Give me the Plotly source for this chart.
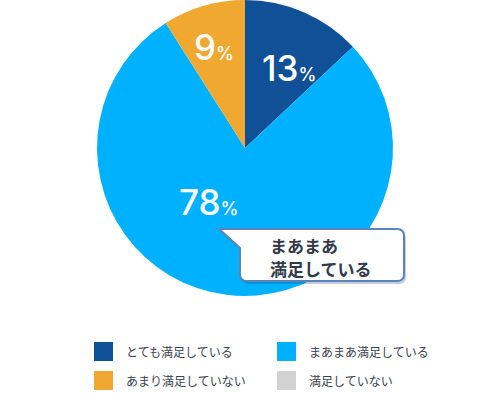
import plotly.graph_objects as go

W, H = 490, 396

labels = ["とても満足している", "まあまあ満足している", "あまり満足していない", "満足していない"]
values = [13, 78, 9, 0]
colors = ["#0f5096", "#00b1ff", "#f0a830", "#d2d2d2"]
pct_text = ["13", "78", "9", ""]
callout_lines = ["まあまあ", "満足している"]

def px(x):
    return x / W

def py(y):
    return 1 - y / H

fig = go.Figure()
fig.add_trace(go.Pie(
    labels=labels, values=values, sort=False, direction="clockwise", rotation=0,
    marker=dict(colors=colors, line=dict(width=0)),
    textinfo="none",
    domain=dict(x=[px(97), px(393)], y=[py(296), py(0)]),
    showlegend=False, hoverinfo="label+percent",
))

shapes = []
def bubble_path(dx=0, dy=0):
    L, T, R, B, r = 240 + dx, 229 + dy, 404 + dx, 281 + dy, 7
    tip = (219 + dx, 229 + dy)
    path = f"M {px(tip[0])},{py(tip[1])} L {px(R - r)},{py(T)} "
    path += f"Q {px(R)},{py(T)} {px(R)},{py(T + r)} "
    path += f"L {px(R)},{py(B - r)} Q {px(R)},{py(B)} {px(R - r)},{py(B)} "
    path += f"L {px(L + r)},{py(B)} Q {px(L)},{py(B)} {px(L)},{py(B - r)} "
    path += f"L {px(L)},{py(248 + dy)} Z"
    return path

shapes.append(dict(type="path", xref="paper", yref="paper", path=bubble_path(2, 3),
                   fillcolor="rgba(20,60,110,0.25)", line=dict(width=0)))
shapes.append(dict(type="path", xref="paper", yref="paper", path=bubble_path(),
                   fillcolor="white", line=dict(color="#5a84ba", width=2)))

annotations = []
for ly, line in zip([245, 268], callout_lines):
    annotations.append(dict(
        x=px(268), y=py(ly), xref="paper", yref="paper", xanchor="left", yanchor="middle",
        text=f"<b>{line}</b>", showarrow=False, align="left",
        font=dict(family="Noto Sans CJK JP", size=17, color="#333a4a"),
    ))

# percentage labels
label_pos = [(289, 68), (208, 202), (214, 47)]
for (lx, ly), t in zip(label_pos, pct_text):
    if not t:
        continue
    annotations.append(dict(
        x=px(lx), y=py(ly), xref="paper", yref="paper", xanchor="center", yanchor="middle",
        text=f"{t}<span style='font-size:18px'>%</span>", showarrow=False,
        font=dict(family="Inter", size=35, color="white", weight=500),
    ))

# legend drawn as squares + text
leg_pos = [(94, 342), (277, 342), (94, 371), (277, 371)]
for (lx, ly), lab, col in zip(leg_pos, labels, colors):
    shapes.append(dict(type="rect", xref="paper", yref="paper",
                       x0=px(lx), x1=px(lx + 19), y0=py(ly + 19), y1=py(ly),
                       fillcolor=col, line=dict(width=0)))
    annotations.append(dict(x=px(lx + 30), y=py(ly + 9.5), xref="paper", yref="paper",
                            xanchor="left", yanchor="middle", text=lab, showarrow=False,
                            font=dict(family="Noto Sans CJK JP", size=12, color="#3a4050")))

fig.update_layout(
    width=W, height=H, margin=dict(l=0, r=0, t=0, b=0),
    paper_bgcolor="white", plot_bgcolor="white",
    shapes=shapes, annotations=annotations,
)
fig.write_html("out.html", config={"displayModeBar": False},
               post_script="document.body.style.margin='0';")
